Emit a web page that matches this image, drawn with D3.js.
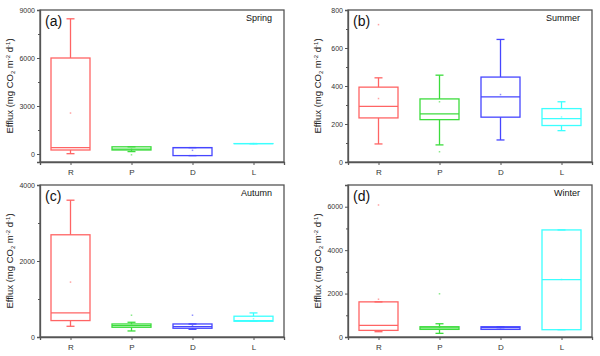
<!DOCTYPE html>
<html><head><meta charset="utf-8">
<script src="https://cdn.jsdelivr.net/npm/d3@7/dist/d3.min.js"></script>
<style>body{margin:0;background:#fff}svg{display:block}text{font-family:"Liberation Sans",Arial,sans-serif}</style>
</head><body><svg id="c" width="600" height="356"></svg>
<script>
const categories = ["R","P","D","L"];
const colors = ["#ff6464","#3cdc3c","#4646ff","#3cffff"];
const seasons = ["Spring","Summer","Autumn","Winter"];
const panelLetters = ["(a)","(b)","(c)","(d)"];
const yDomains = [[-500,9000],[0,800],[0,4000],[0,7000]];
const yTicks = [[0,3000,6000,9000],[0,200,400,600,800],[0,2000,4000],[0,2000,4000,6000]];
const yMinor = [[1500,4500,7500],[100,300,500,700],[1000,3000],[1000,3000,5000]];

// per season: values for R, P, D, L
const whiskerLow  = [[20,150,-100,650],[95,90,116,165],[282,159,203,414],[244,168,351,336]];
const q1          = [[250,250,-100,650],[232,223,236,192],[432,256,230,414],[305,351,351,336]];
const median      = [[400,300,400,650],[293,253,343,228],[634,300,273,430],[534,420,430,2641]];
const q3          = [[6000,450,400,650],[394,332,447,281],[2690,343,343,547],[1618,473,473,4931]];
const whiskerHigh = [[8450,450,400,650],[443,457,645,317],[3600,388,343,634],[1618,610,473,4931]];
const means       = [[2560,300,230,650],[334,317,355,237],[1445,310,300,480],[1740,450,430,2650]];
const outliers    = [[[],[-50],[],[]],[[723],[54],[],[]],[[],[573],[573],[]],[[6080],[1990],[],[]]];

const svg = d3.select("#c");
const panels = [
  {x:40,y:10},{x:348,y:10},{x:40,y:185},{x:348,y:185}
];
const W = 244, H = 152;
const axisColor = "#555";

panels.forEach((p,i)=>{
  const g = svg.append("g").attr("transform",`translate(${p.x},${p.y})`);
  const x = d3.scalePoint().domain(categories).range([0,W]).padding(0.5);
  const y = d3.scaleLinear().domain(yDomains[i]).range([H,0]);
  const bw = 39, cap = 8;

  // frame
  g.append("rect").attr("width",W).attr("height",H).attr("fill","none").attr("stroke",axisColor).attr("stroke-width",1.3);

  // y axis
  const ya = g.append("g").call(d3.axisLeft(y).tickValues(yTicks[i]).tickSize(3).tickPadding(2).tickFormat(d3.format("d")));
  ya.select(".domain").attr("stroke",axisColor).attr("stroke-width",1.3);
  ya.selectAll(".tick line").attr("stroke",axisColor);
  ya.selectAll("text").attr("font-size",7).attr("fill","#333");
  g.append("g").call(d3.axisLeft(y).tickValues(yMinor[i]).tickSize(2).tickFormat(""))
    .call(s=>{s.select(".domain").remove();s.selectAll("line").attr("stroke",axisColor);});

  // x axis
  const xa = g.append("g").attr("transform",`translate(0,${H})`).call(d3.axisBottom(x).tickSize(3).tickPadding(4));
  xa.select(".domain").attr("stroke",axisColor).attr("stroke-width",1.3);
  xa.selectAll(".tick line").attr("stroke",axisColor);
  xa.selectAll("text").attr("font-size",8).attr("fill","#333");

  // y label
  const yl = g.append("text").attr("transform",`translate(${-27},${H/2}) rotate(-90)`)
    .attr("text-anchor","middle").attr("font-size",9.5).attr("fill","#222");
  yl.append("tspan").text("Efflux (mg CO");
  yl.append("tspan").attr("font-size",6).attr("dy",2).text("2");
  yl.append("tspan").attr("dy",-2).text(" m");
  yl.append("tspan").attr("font-size",6).attr("dy",-3).text("-2");
  yl.append("tspan").attr("dy",3).text(" d");
  yl.append("tspan").attr("font-size",6).attr("dy",-3).text("-1");
  yl.append("tspan").attr("dy",3).text(")");

  g.append("text").attr("x",5).attr("y",16).attr("font-size",14).attr("fill","#111").text(panelLetters[i]);
  g.append("text").attr("x",W-12).attr("y",11).attr("text-anchor","end").attr("font-size",9).attr("fill","#111").text(seasons[i]);

  categories.forEach((c,j)=>{
    const cx = x(c), col = colors[j];
    const b = g.append("g").attr("stroke",col).attr("stroke-width",1.3).attr("fill","none");
    // whiskers
    b.append("line").attr("x1",cx).attr("x2",cx).attr("y1",y(q3[i][j])).attr("y2",y(whiskerHigh[i][j]));
    b.append("line").attr("x1",cx).attr("x2",cx).attr("y1",y(q1[i][j])).attr("y2",y(whiskerLow[i][j]));
    b.append("line").attr("x1",cx-cap/2).attr("x2",cx+cap/2).attr("y1",y(whiskerHigh[i][j])).attr("y2",y(whiskerHigh[i][j]));
    b.append("line").attr("x1",cx-cap/2).attr("x2",cx+cap/2).attr("y1",y(whiskerLow[i][j])).attr("y2",y(whiskerLow[i][j]));
    // box
    b.append("rect").attr("x",cx-bw/2).attr("width",bw)
      .attr("y",y(q3[i][j])).attr("height",Math.max(0.01,y(q1[i][j])-y(q3[i][j])));
    b.append("line").attr("x1",cx-bw/2).attr("x2",cx+bw/2).attr("y1",y(median[i][j])).attr("y2",y(median[i][j]));
    // mean
    g.append("rect").attr("x",cx-0.75).attr("y",y(means[i][j])-0.75).attr("width",1.5).attr("height",1.5).attr("fill",col).attr("opacity",0.6);
    outliers[i][j].forEach(v=>{
      g.append("rect").attr("x",cx-0.75).attr("y",y(v)-0.75).attr("width",1.5).attr("height",1.5).attr("fill",col).attr("opacity",0.6);
    });
  });
});
</script></body></html>
